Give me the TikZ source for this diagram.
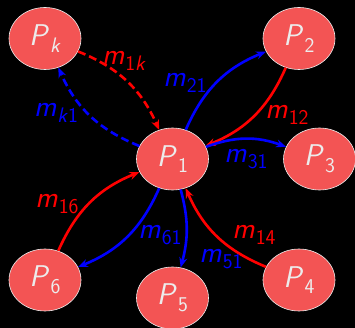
\documentclass[tikz,border=0pt]{standalone}
\usepackage{fontspec}
\usetikzlibrary{shapes.geometric,arrows.meta}
\definecolor{pfill}{RGB}{243,84,84}
\definecolor{ptext}{RGB}{236,236,236}
\newcommand\plab[2]{\textsl{#1}\kern0.03em\raisebox{-0.22em}{\fontsize{21}{21}\selectfont #2}}
\tikzset{
 proc/.style={ellipse, fill=pfill, draw=ptext, line width=0.6pt, minimum width=72pt, minimum height=62pt, inner sep=0pt, text=ptext, font=\sffamily\fontsize{30}{32}\selectfont},
 msg/.style={line width=2.6pt, -{Stealth[length=10pt,width=8pt]}, bend left=22},
 redmsg/.style={msg, draw=red},
 bluemsg/.style={msg, draw=blue},
 dashedmsg/.style={dash pattern=on 8pt off 4pt},
 mlab/.style={font=\sffamily\fontsize{30}{32}\selectfont, inner sep=0pt}
}
\begin{document}
\begin{tikzpicture}[x=1pt,y=-1pt]
\fill[black] (0,0) rectangle (355,328);
\useasboundingbox (0,0) rectangle (355,328);
\node[proc] (P1) at (172.5,159) {\plab{P}{1}};
\node[proc] (P2) at (299,38.5) {\plab{P}{2}};
\node[proc] (Pk) at (45,38.5) {\plab{P}{\textsl{k}}};
\node[proc] (P3) at (319.5,159) {\plab{P}{3}};
\node[proc] (P6) at (45,280) {\plab{P}{6}};
\node[proc] (P5) at (172.5,298) {\plab{P}{5}};
\node[proc] (P4) at (299,280) {\plab{P}{4}};

\draw[redmsg, dashedmsg] (Pk) to (P1);
\draw[bluemsg, dashedmsg] (P1) to (Pk);
\draw[bluemsg] (P1) to (P2);
\draw[redmsg] (P2) to (P1);
\draw[bluemsg, bend left=20] (P1) to (P3);
\draw[bluemsg] (P1) to (P6);
\draw[redmsg] (P6) to (P1);
\draw[bluemsg, bend left=15] (P1) to (P5);
\draw[redmsg] (P4) to (P1);

\node[mlab, text=red] (l1k) at (124,61) {\plab{m}{1\textsl{k}}};
\node[mlab, text=blue] (lk1) at (56,113) {\plab{m}{\textsl{k}1}};
\node[mlab, text=blue] (l21) at (185,83) {\plab{m}{21}};
\node[mlab, text=red] (l12) at (287,115) {\plab{m}{12}};
\node[mlab, text=blue] (l31) at (246,159) {\plab{m}{31}};
\node[mlab, text=red] (l16) at (57,204) {\plab{m}{16}};
\node[mlab, text=blue] (l61) at (160,235) {\plab{m}{61}};
\node[mlab, text=blue] (l51) at (221,259) {\plab{m}{51}};
\node[mlab, text=red] (l14) at (254,235) {\plab{m}{14}};
\end{tikzpicture}
\end{document}
